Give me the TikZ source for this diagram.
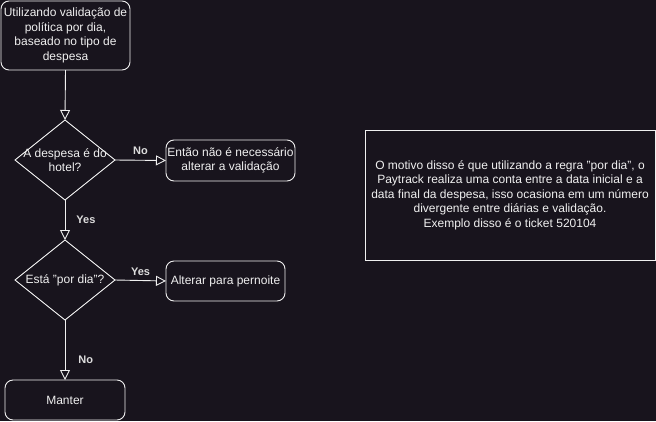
\documentclass[tikz,border=0pt]{standalone}
\usepackage{fontspec}
\setmainfont{Liberation Sans}
\usetikzlibrary{arrows.meta,shapes.geometric}
\definecolor{bg}{HTML}{18141D}
\definecolor{fg}{HTML}{F0F0F0}
\definecolor{lblc}{HTML}{DDDDDD}
\begin{document}
\begin{tikzpicture}[x=1pt,y=-1pt,
  every node/.style={text=fg,font=\fontsize{12}{14.5}\selectfont,align=center,inner sep=0pt},
  rbox/.style={draw=fg,rounded corners=8pt,line width=0.9pt},
  pbox/.style={draw=fg,line width=0.9pt},
  conn/.style={draw=fg,line width=0.9pt,-{Triangle[open,length=10pt,width=10pt]}},
  lbl/.style={text=lblc,font=\fontsize{11}{13}\selectfont\bfseries}]
\fill[bg] (0,0) rectangle (656,421);
\useasboundingbox (0,0) rectangle (656,421);
% nodes as drawn shapes with named coordinates
\draw[rbox] (1,1) rectangle (130,70);
\node (t) at (65.5,35.5) {Utilizando validação de\\política por dia,\\baseado no tipo de\\despesa};
\coordinate (tb) at (65.5,70);
\draw[pbox] (65,120) -- (115,160) -- (65,200) -- (15,160) -- cycle;
\coordinate (d1t) at (65,120); \coordinate (d1r) at (115,160); \coordinate (d1b) at (65,200);
\node (d1) at (65,160) {A despesa é do\\hotel?};
\draw[rbox] (166,140) rectangle (295,181);
\coordinate (n1l) at (166,160.5);
\node (n1) at (230.5,160.5) {Então não é necessário\\alterar a validação};
\draw[pbox] (65,240) -- (115,280) -- (65,320) -- (15,280) -- cycle;
\coordinate (d2t) at (65,240); \coordinate (d2r) at (115,280); \coordinate (d2b) at (65,320);
\node (d2) at (65,280) {Está "por dia"?};
\draw[rbox] (166,261) rectangle (285,301);
\coordinate (a1l) at (166,281);
\node (a1) at (225.5,281) {Alterar para pernoite};
\draw[rbox] (5,380) rectangle (125,420);
\coordinate (mt) at (65,380);
\node (m) at (65,400) {Manter};
\draw[pbox] (365,130) rectangle (655,260);
\node (note) at (510,195) {O motivo disso é que utilizando a regra "por dia", o\\Paytrack realiza uma conta entre a data inicial e a\\data final da despesa, isso ocasiona em um número\\divergente entre diárias e validação.\\Exemplo disso é o ticket 520104};
% connectors
\draw[conn] (tb) -- (d1t);
\draw[conn] (d1r) -- (n1l) node[lbl,pos=0.5,above=5pt] (l1) {No};
\draw[conn] (d1b) -- (d2t) node[lbl,pos=0.5,right=11pt] (l2) {Yes};
\draw[conn] (d2r) -- (a1l) node[lbl,pos=0.5,above=4pt] (l3) {Yes};
\draw[conn] (d2b) -- (mt) node[lbl,pos=0.67,right=13pt] (l4) {No};
\end{tikzpicture}
\end{document}
